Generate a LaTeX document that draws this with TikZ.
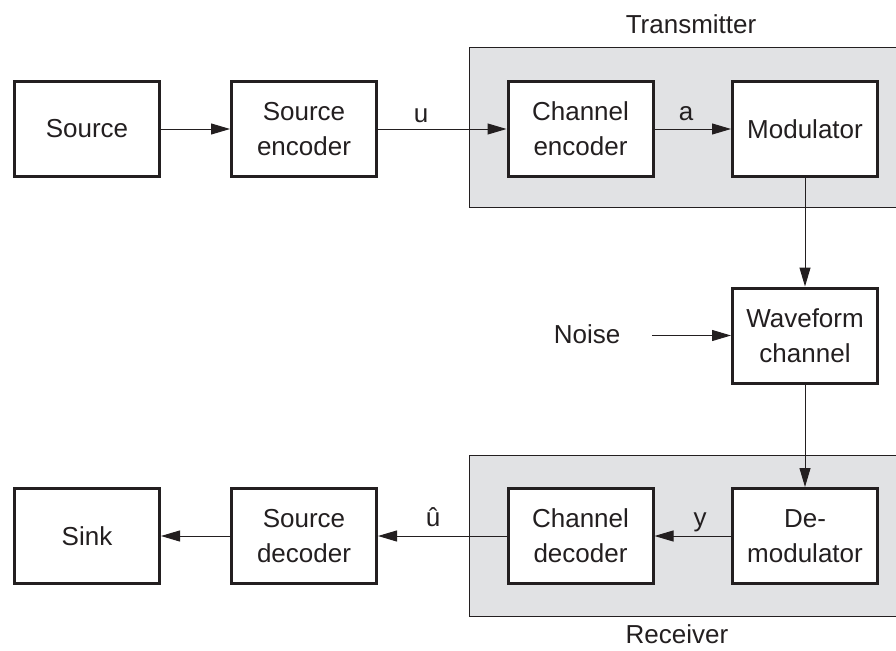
\documentclass[tikz,border=0pt]{standalone}
\usepackage{fontspec}
\setmainfont{Liberation Sans}
\usetikzlibrary{arrows.meta}
\definecolor{ink}{HTML}{231F20}
\definecolor{panel}{HTML}{E1E2E4}
\begin{document}
\begin{tikzpicture}[x=1pt,y=-1pt,
  font=\fontsize{26}{35}\selectfont, color=ink,
  block/.style={draw=ink, fill=white, line width=3pt, minimum width=145pt,
    minimum height=95pt, inner sep=0pt, align=center},
  link/.style={line width=1pt, -{Triangle[length=19pt,width=11pt]}},
  tag/.style={anchor=base, inner sep=0pt},
  panelbox/.style={fill=panel, draw=ink, line width=0.8pt}]
\useasboundingbox (0,0) rectangle (896,650);

% shaded transmitter and receiver groups (open to the right)
\filldraw[panelbox] (897,47) -- (469,47) -- (469,207) -- (897,207);
\filldraw[panelbox] (897,455) -- (469,455) -- (469,616) -- (897,616);
\node[tag] (tx) at (691,34) {Transmitter};
\node[tag] (rx) at (677,643) {Receiver};

% blocks
\node[block] (src)  at (87,129)    {Source};
\node[block] (senc) at (304,129)   {Source\\encoder};
\node[block] (cenc) at (580.5,129) {Channel\\encoder};
\node[block] (mod)  at (805,129)   {Modulator};
\node[block] (wch)  at (805,335.5) {Waveform\\channel};
\node[block] (dem)  at (805,536)   {De-\\modulator};
\node[block] (cdec) at (580.5,536) {Channel\\decoder};
\node[block] (sdec) at (304,536)   {Source\\decoder};
\node[block] (sink) at (87,536)    {Sink};

% noise input
\node[tag] (noise) at (587,343) {Noise};
\coordinate (nz) at (652,335.5);

% connectors
\draw[link] (src) -- (senc);
\draw[link] (senc) -- (cenc);
\draw[link] (cenc) -- (mod);
\draw[link] (mod) -- (wch);
\draw[link] (nz) -- (wch);
\draw[link] (wch) -- (dem);
\draw[link] (dem) -- (cdec);
\draw[link] (cdec) -- (sdec);
\draw[link] (sdec) -- (sink);

% signal labels
\node[tag] (lu)  at (421,122) {u};
\node[tag] (la)  at (686,121) {a};
\node[tag] (ly)  at (700,526) {y};
\node[tag] (luh) at (433,526) {û};
\end{tikzpicture}
\end{document}
